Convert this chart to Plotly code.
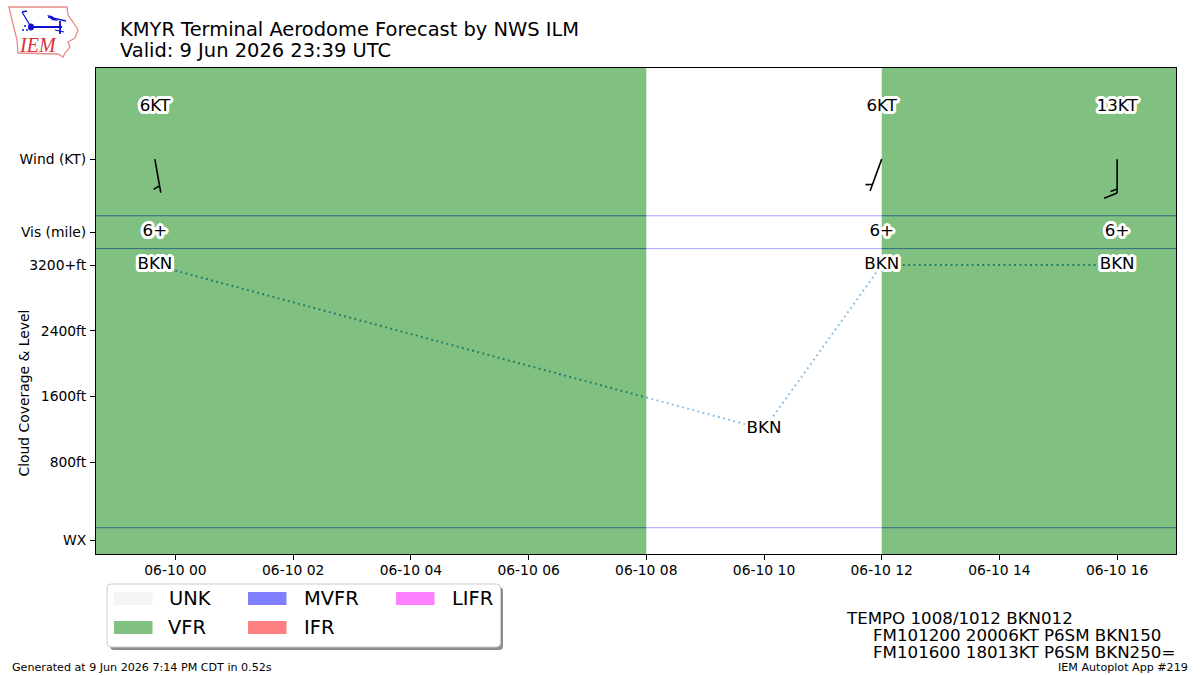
import numpy as np
import pandas as pd
import plotly.graph_objects as go

W, H = 1200, 675
PLOT_L, PLOT_R, PLOT_T, PLOT_B = 96, 1176, 68, 554
FONT = "DejaVu Sans"

# Forecast series
valid_time = "2026-06-09 23:39"
cloud_times = ["2026-06-09 23:39", "2026-06-10 10:00", "2026-06-10 12:00", "2026-06-10 16:00"]
cloud_levels_ft = [3200, 1200, 3200, 3200]
cloud_labels = ["BKN", "BKN", "BKN", "BKN"]
wind_times = ["2026-06-09 23:39", "2026-06-10 12:00", "2026-06-10 16:00"]
wind_dir_deg = [170, 200, 180]
wind_speed_kt = [6, 6, 13]
wind_labels = ["6KT", "6KT", "13KT"]
vis_labels = ["6+", "6+", "6+"]

# Flight category periods
band_starts = ["2026-06-09 22:39", "2026-06-10 12:00"]
band_ends = ["2026-06-10 08:00", "2026-06-10 17:00"]

# Axis layout
x_range = ["2026-06-09 22:39", "2026-06-10 17:00"]
y_range = [-320, 5600]
x_tick_vals = ["2026-06-10 %02d:00" % h for h in range(0, 18, 2)]
x_tick_text = ["06-10 %02d" % h for h in range(0, 18, 2)]
y_tick_vals = [-150, 800, 1600, 2400, 3200, 3600, 4490]
y_tick_text = ["WX", "800ft", "1600ft", "2400ft", "3200+ft", "Vis (mile)", "Wind (KT)"]
divider_levels = [0, 3400, 3800]
wind_label_level = 5125
wind_barb_level = 4490
vis_label_level = 3600
cloud_label_offset_ft = 0

# Legend contents and bottom-right TAF text
legend_names = ["UNK", "VFR", "MVFR", "IFR", "LIFR"]
legend_colors = ["#f5f5f5", "#80c080", "#8080ff", "#ff8080", "#ff80ff"]
taf_lines = ["TEMPO 1008/1012 BKN012",
             "FM101200 20006KT P6SM BKN150",
             "FM101600 18013KT P6SM BKN250="]

T0 = pd.Timestamp(x_range[0])
hours = lambda t: (pd.Timestamp(t) - T0) / pd.Timedelta(hours=1)
to_time = lambda h: T0 + pd.Timedelta(hours=float(h))
hours_per_px = hours(x_range[1]) / (PLOT_R - PLOT_L)
ft_per_px = (y_range[1] - y_range[0]) / (PLOT_B - PLOT_T)


def px(x):
    return x / W


def py(y):
    return 1 - y / H


def rounded_path(x0, y0, x1, y1, r):
    return (f"M {px(x0 + r)} {py(y0)} L {px(x1 - r)} {py(y0)} Q {px(x1)} {py(y0)} {px(x1)} {py(y0 + r)} "
            f"L {px(x1)} {py(y1 - r)} Q {px(x1)} {py(y1)} {px(x1 - r)} {py(y1)} "
            f"L {px(x0 + r)} {py(y1)} Q {px(x0)} {py(y1)} {px(x0)} {py(y1 - r)} "
            f"L {px(x0)} {py(y0 + r)} Q {px(x0)} {py(y0)} {px(x0 + r)} {py(y0)} Z")


def polygon_path(points):
    return "M " + " L ".join(f"{px(x)} {py(y)}" for x, y in points) + " Z"


def in_band(h):
    return any(hours(a) <= h <= hours(b) for a, b in zip(band_starts, band_ends))


def span_edges():
    edges = [0.0, hours(x_range[1])]
    for a, b in zip(band_starts, band_ends):
        edges += [hours(a), hours(b)]
    return sorted(set(edges))


shapes = []
annotations = []

# Category bands behind the data
for a, b in zip(band_starts, band_ends):
    shapes.append(dict(type="rect", xref="x", yref="paper", x0=a, x1=b,
                       y0=py(PLOT_B), y1=py(PLOT_T), fillcolor="#80c080",
                       line_width=0, layer="below"))

# Row dividers are darker where they cross a band
edges = span_edges()
for level in divider_levels:
    for a, b in zip(edges[:-1], edges[1:]):
        color = "#2b6a80" if in_band((a + b) / 2) else "#a6a6ff"
        shapes.append(dict(type="line", xref="x", yref="y", x0=to_time(a), x1=to_time(b),
                           y0=level, y1=level, line=dict(color=color, width=1), layer="below"))

fig = go.Figure()

# Cloud level trace, one piece per colour span
cloud_h = np.array([hours(t) for t in cloud_times])
cloud_y = np.array(cloud_levels_ft, dtype=float)
for a, b in zip(edges[:-1], edges[1:]):
    lo, hi = max(a, cloud_h[0]), min(b, cloud_h[-1])
    if lo >= hi:
        continue
    inner = [h for h in cloud_h if lo < h < hi]
    hs = [lo] + inner + [hi]
    ys = np.interp(hs, cloud_h, cloud_y)
    color = "#1a7d68" if in_band((a + b) / 2) else "rgba(90,160,210,0.7)"
    fig.add_trace(go.Scatter(x=[to_time(h) for h in hs], y=ys, mode="lines",
                             line=dict(color=color, width=2, dash="1.8px,3.5px"),
                             hoverinfo="skip"))

# Wind barbs, built in screen units so the staff length stays constant
STAFF_PX = 34
bx, by = [], []


def add_segment(p0, p1, tip_h):
    for sx, sy in (p0, p1):
        bx.append(to_time(tip_h + sx * hours_per_px))
        by.append(wind_barb_level - sy * ft_per_px)
    bx.append(None)
    by.append(None)


for t, d, kt in zip(wind_times, wind_dir_deg, wind_speed_kt):
    tip = hours(t)
    s = np.array([np.sin(np.radians(d)), -np.cos(np.radians(d))])
    n = np.array([-s[1], s[0]])
    end = s * STAFF_PX
    add_segment((0, 0), end, tip)
    rounded = round(kt / 5) * 5
    fulls, half = rounded // 10, rounded % 10 == 5
    offset = 0.0
    for _ in range(fulls):
        base = end - s * offset
        add_segment(base, base + 13 * n + 5 * s, tip)
        offset += 4
    if half:
        if fulls == 0:
            offset = 7
        base = end - s * offset
        add_segment(base, base + 6.5 * n + 2.5 * s, tip)

fig.add_trace(go.Scatter(x=bx, y=by, mode="lines", line=dict(color="black", width=1.6),
                         hoverinfo="skip"))

# Halo keeps the labels readable over the bands
HALO = ", ".join(f"{r * np.cos(a):.2f}px {r * np.sin(a):.2f}px 0 white"
                 for r in (1.5, 3.0)
                 for a in np.linspace(0, 2 * np.pi, 24, endpoint=False))
label_font = dict(family=FONT, size=16.67, color="black", shadow=HALO)
fig.add_trace(go.Scatter(x=wind_times, y=[wind_label_level] * len(wind_times), text=wind_labels,
                         mode="text", textposition="middle center", textfont=label_font, hoverinfo="skip"))
fig.add_trace(go.Scatter(x=wind_times, y=[vis_label_level] * len(wind_times), text=vis_labels,
                         mode="text", textposition="middle center", textfont=label_font, hoverinfo="skip"))
fig.add_trace(go.Scatter(x=cloud_times, y=[v + cloud_label_offset_ft for v in cloud_levels_ft],
                         text=cloud_labels, mode="text", textposition="middle center",
                         textfont=label_font, hoverinfo="skip"))


def note(text, x, y, size, xanchor="left", color="black", family=FONT, **kw):
    annotations.append(dict(text=text, x=px(x), y=py(y), xref="paper", yref="paper",
                            xanchor=xanchor, yanchor="middle", showarrow=False, borderpad=0,
                            font=dict(family=family, size=size, color=color, **kw.pop("font_extra", {})), **kw))


note("KMYR Terminal Aerodome Forecast by NWS ILM", 119, 29, 19.44)
note(f"Valid: 9 Jun 2026 23:39 UTC", 119, 50.5, 19.44)
note("Cloud Coverage &amp; Level", 23, 393.5, 13.89, xanchor="center", textangle=-90)
note("Generated at 9 Jun 2026 7:14 PM CDT in 0.52s", 11, 667, 11.11)
note("IEM Autoplot App #219", 1189, 667, 11.11, xanchor="right")
for line, x, y in zip(taf_lines, [845, 872, 872], [618.5, 635.5, 652]):
    note(line, x, y, 16.67)

# Legend box with drop shadow
shapes.append(dict(type="path", xref="paper", yref="paper", path=rounded_path(110, 587, 503, 650, 4),
                   fillcolor="#8c8c8c", line_width=0))
shapes.append(dict(type="path", xref="paper", yref="paper", path=rounded_path(107, 584, 500.5, 647, 4),
                   fillcolor="white", line=dict(color="#cccccc", width=1)))
slots = [(114, 592), (114, 621), (248, 592), (248, 621), (396, 592)]
label_gaps = [53.5, 53, 54.5, 54.5, 54.5]
for name, color, (sx, sy), gap in zip(legend_names, legend_colors, slots, label_gaps):
    shapes.append(dict(type="rect", xref="paper", yref="paper", x0=px(sx), x1=px(sx + 38.5),
                       y0=py(sy + 13), y1=py(sy), fillcolor=color, line_width=0))
    note(name, sx + gap, sy + 6.5, 19.44)

# Station logo in the top left corner
iowa = [(9, 7), (67, 7), (68, 15), (73, 22), (78, 30), (75, 38), (68, 42), (70, 47), (65, 53),
        (63, 57), (58, 54), (18, 53), (17, 40), (12, 20)]
shapes.append(dict(type="path", xref="paper", yref="paper", path=polygon_path(iowa),
                   fillcolor="white", line=dict(color="#e88a8a", width=1.3)))
blue = "#1010d0"
for (a, b), width in [(((31, 27), (62, 27)), 2), (((31, 27), (22, 12)), 1.3), (((22, 12), (27, 11)), 1.3),
                      (((60, 21), (60, 34)), 1.8), (((55, 30), (64, 32)), 1.2), (((48, 17), (66, 21)), 1.3)]:
    shapes.append(dict(type="line", xref="paper", yref="paper", x0=px(a[0]), y0=py(a[1]),
                       x1=px(b[0]), y1=py(b[1]), line=dict(color=blue, width=width)))
shapes.append(dict(type="circle", xref="paper", yref="paper", x0=px(28), x1=px(34),
                   y0=py(30.5), y1=py(23.5), fillcolor=blue, line_width=0))
shapes.append(dict(type="path", xref="paper", yref="paper",
                   path=polygon_path([(47, 15), (52, 16), (58, 21), (52, 20)]),
                   fillcolor=blue, line_width=0))
for cx, cy in [(25, 26), (23, 30), (27, 30)]:
    shapes.append(dict(type="circle", xref="paper", yref="paper", x0=px(cx - 1), x1=px(cx + 1),
                       y0=py(cy + 1), y1=py(cy - 1), fillcolor=blue, line_width=0))
note("IEM", 37.5, 45, 20, xanchor="center", color="#d8323c", family="Liberation Serif",
     font_extra=dict(style="italic"))

fig.update_layout(
    width=W, height=H, margin=dict(l=0, r=0, t=0, b=0), autosize=False,
    paper_bgcolor="white", plot_bgcolor="white", showlegend=False,
    shapes=shapes, annotations=annotations,
    xaxis=dict(domain=[px(PLOT_L), px(PLOT_R)], range=x_range, type="date",
               tickmode="array", tickvals=x_tick_vals, ticktext=x_tick_text,
               ticks="outside", ticklen=5, tickwidth=1, tickcolor="black", ticklabelstandoff=-2,
               tickfont=dict(family=FONT, size=13.89, color="black"),
               showgrid=False, zeroline=False, showline=True, linecolor="black", linewidth=1, mirror=True),
    yaxis=dict(domain=[py(PLOT_B), py(PLOT_T)], range=y_range,
               tickmode="array", tickvals=y_tick_vals, ticktext=y_tick_text,
               ticks="outside", ticklen=5, tickwidth=1, tickcolor="black", ticklabelstandoff=1,
               tickfont=dict(family=FONT, size=13.89, color="black"),
               showgrid=False, zeroline=False, showline=True, linecolor="black", linewidth=1, mirror=True),
)

fig.write_html("out.html")
